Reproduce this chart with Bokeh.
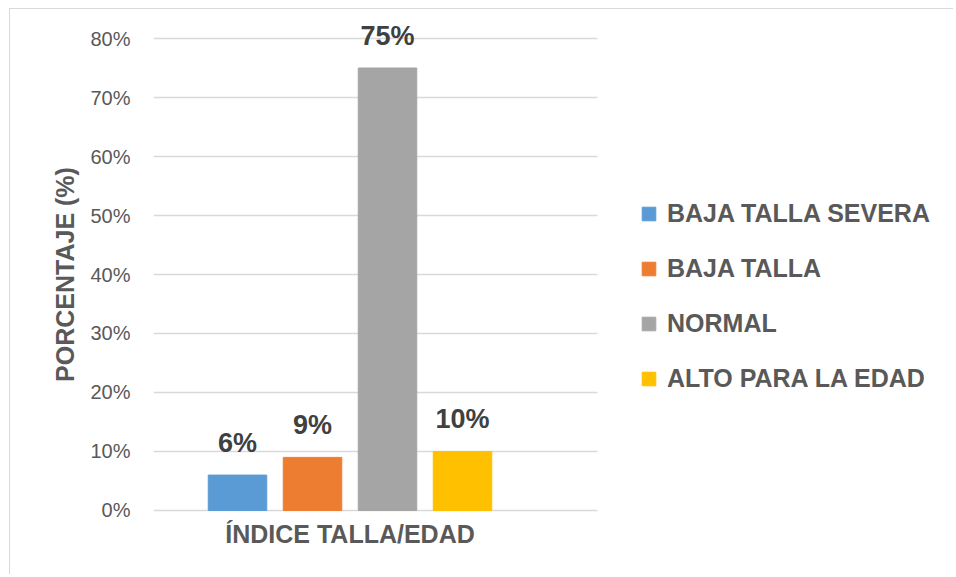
from bokeh.plotting import figure
from bokeh.models import (ColumnDataSource, Range1d, FixedTicker, NumeralTickFormatter,
                          LabelSet, Legend, LegendItem)
from bokeh.core.properties import value
from bokeh.embed import file_html
from bokeh.resources import INLINE

# ---- data ----
categories = ["BAJA TALLA SEVERA", "BAJA TALLA", "NORMAL", "ALTO PARA LA EDAD"]
values = [0.06, 0.09, 0.75, 0.10]
value_labels = ["6%", "9%", "75%", "10%"]
colors = ["#5b9bd5", "#ed7d31", "#a5a5a5", "#ffc000"]
group_label = "ÍNDICE TALLA/EDAD"
y_ticks = [0.0, 0.1, 0.2, 0.3, 0.4, 0.5, 0.6, 0.7, 0.8]

positions = list(range(1, len(categories) + 1))
group_center = sum(positions) / len(positions)

FONT = "Liberation Sans"
TXT = "#595959"

X0, X1 = -0.12, 5.80     # plotted category area
XR = 10.56               # frame extends right to hold the legend
PAD = 0.0492             # extra room above (labels) and below

p = figure(width=944, height=566, output_backend="svg", toolbar_location=None,
           x_range=Range1d(X0, XR), y_range=Range1d(-PAD, 0.8 + PAD),
           min_border_left=143, min_border_right=0, min_border_top=0,
           min_border_bottom=36,
           styles={"margin-top": "8px", "margin-left": "9px",
                   "border-top": "1px solid #d9d9d9", "border-left": "1px solid #d9d9d9"})
p.outline_line_color = None
p.background_fill_color = "white"
p.border_fill_color = "white"

source = ColumnDataSource(dict(x=positions, top=values, cat=categories,
                               color=colors, lbl=value_labels))

bars = p.vbar(x="x", top="top", width=0.78, color="color", source=source)

# data labels
labels = LabelSet(x="x", y="top", text="lbl", source=source, text_align="center",
                  text_baseline="bottom", y_offset=17, text_font=value(FONT),
                  text_font_style="bold", text_font_size="27px", text_color="#404040")
p.add_layout(labels)

# legend
items = [LegendItem(label=c, renderers=[bars], index=i) for i, c in enumerate(categories)]
legend = Legend(items=items, location=(487, 146), border_line_color=None,
                background_fill_alpha=0, padding=0, margin=0,
                glyph_width=17, glyph_height=17, label_standoff=10,
                label_text_font=FONT, label_text_font_style="bold",
                label_text_font_size="25px", label_text_color=TXT,
                label_height=20, spacing=26)
p.add_layout(legend)

# y axis
p.yaxis.ticker = FixedTicker(ticks=y_ticks)
p.yaxis.formatter = NumeralTickFormatter(format="0%")
p.yaxis.axis_line_color = None
p.yaxis.major_tick_line_color = None
p.yaxis.minor_tick_line_color = None
p.yaxis.major_tick_out = 0
p.yaxis.major_tick_in = 0
p.yaxis.major_label_standoff = 23
p.yaxis.major_label_text_font = FONT
p.yaxis.major_label_text_font_size = "20px"
p.yaxis.major_label_text_color = TXT
p.yaxis.axis_label = "PORCENTAJE (%)"
p.yaxis.axis_label_text_font = FONT
p.yaxis.axis_label_text_font_style = "bold"
p.yaxis.axis_label_text_font_size = "25px"
p.yaxis.axis_label_text_color = TXT
p.yaxis.axis_label_standoff = 8

# x axis
p.xaxis.ticker = FixedTicker(ticks=[group_center])
p.xaxis.major_label_overrides = {group_center: group_label}
p.xaxis.axis_line_color = None
p.xaxis.major_tick_line_color = None
p.xaxis.minor_tick_line_color = None
p.xaxis.major_tick_out = 0
p.xaxis.major_tick_in = 0
p.xaxis.major_label_standoff = -20
p.xaxis.major_label_text_font = FONT
p.xaxis.major_label_text_font_style = "bold"
p.xaxis.major_label_text_font_size = "25px"
p.xaxis.major_label_text_color = TXT

p.xgrid.grid_line_color = None
p.ygrid.grid_line_color = "#d9d9d9"
p.ygrid.grid_line_width = 1.3
p.ygrid.cross_bounds = (X0, X1)

open("out.html", "w").write(file_html(p, INLINE))
